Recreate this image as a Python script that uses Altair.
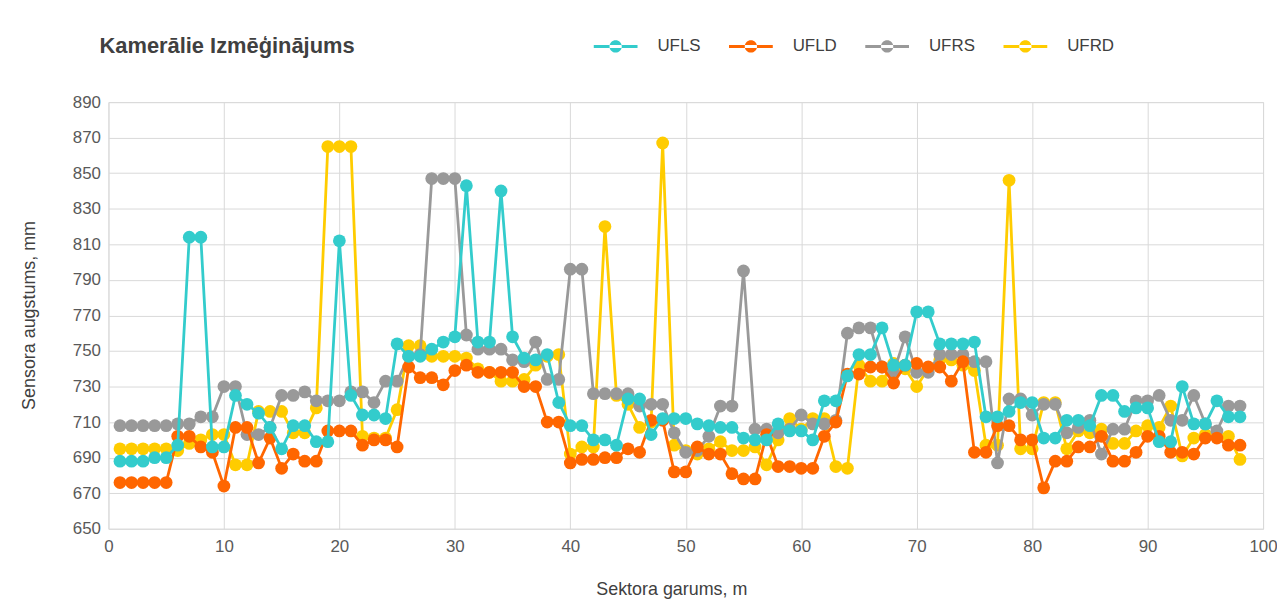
import altair as alt
import pandas as pd

x_vals = list(range(1, 99))

ufls = [688, 688, 688, 690, 690, 697, 814, 814, 696, 696,
        725, 720, 715, 707, 695, 708, 708, 699, 699, 812,
        725, 714, 714, 712, 754, 747, 747, 751, 755, 758,
        843, 755, 755, 840, 758, 746, 745, 748, 721, 708,
        708, 700, 700, 697, 723, 723, 703, 712, 712, 712,
        709, 708, 707, 707, 701, 700, 700, 709, 705, 705,
        700, 722, 722, 736, 748, 748, 763, 742, 742, 772,
        772, 754, 754, 754, 755, 713, 713, 716, 721, 721,
        701, 701, 711, 711, 708, 725, 725, 716, 718, 718,
        699, 699, 730, 709, 709, 722, 713, 713]

ufld = [676, 676, 676, 676, 676, 702, 702, 696, 693, 674,
        707, 707, 687, 701, 684, 692, 688, 688, 705, 705,
        705, 697, 700, 700, 696, 741, 735, 735, 731, 739,
        742, 738, 738, 738, 738, 730, 730, 710, 710, 687,
        689, 689, 690, 690, 695, 693, 711, 711, 682, 682,
        696, 692, 692, 681, 678, 678, 703, 685, 685, 684,
        684, 702, 710, 737, 737, 741, 741, 732, 742, 743,
        741, 741, 733, 744, 693, 693, 708, 708, 700, 700,
        673, 688, 688, 696, 696, 702, 688, 688, 693, 702,
        702, 693, 693, 692, 701, 701, 697, 697]

ufrs = [708, 708, 708, 708, 708, 709, 709, 713, 713, 730,
        730, 703, 703, 707, 725, 725, 727, 722, 722, 722,
        727, 727, 721, 733, 733, 747, 748, 847, 847, 847,
        759, 751, 751, 751, 745, 744, 755, 734, 734, 796,
        796, 726, 726, 726, 726, 719, 720, 720, 704, 693,
        694, 702, 719, 719, 795, 706, 706, 704, 706, 714,
        709, 709, 711, 760, 763, 763, 741, 738, 758, 738,
        738, 748, 748, 748, 744, 744, 687, 723, 723, 714,
        720, 720, 704, 707, 711, 692, 706, 706, 722, 722,
        725, 711, 711, 725, 709, 705, 719, 719]

ufrd = [695, 695, 695, 695, 695, 694, 698, 700, 703, 703,
        686, 686, 716, 716, 716, 704, 704, 718, 865, 865,
        865, 702, 701, 701, 717, 753, 753, 747, 747, 747,
        746, 740, 738, 733, 733, 734, 742, 747, 748, 692,
        696, 696, 820, 725, 720, 707, 710, 867, 697, 694,
        692, 695, 699, 694, 694, 696, 686, 700, 712, 706,
        712, 712, 685, 684, 742, 733, 733, 743, 740, 730,
        740, 745, 745, 742, 739, 697, 697, 846, 695, 695,
        721, 721, 695, 705, 704, 706, 698, 698, 705, 708,
        707, 719, 691, 701, 703, 702, 702, 689]

series_names = ["UFLS", "UFLD", "UFRS", "UFRD"]
series_colors = ["#33CCCC", "#FF6600", "#999999", "#FFCC00"]
draw_order = ["UFRD", "UFRS", "UFLD", "UFLS"]
x_ticks = list(range(0, 101, 10))
y_ticks = list(range(650, 891, 20))

rows = []
for name, vals in zip(series_names, [ufls, ufld, ufrs, ufrd]):
    for xv, yv in zip(x_vals, vals):
        rows.append({"x": xv, "y": yv, "series": name})
df = pd.DataFrame(rows)

FONT = "Liberation Sans"
color_scale = alt.Scale(domain=series_names, range=series_colors)

x_enc = alt.X(
    "x:Q",
    scale=alt.Scale(domain=[0, 100], nice=False, zero=False),
    axis=alt.Axis(
        values=x_ticks, title="Sektora garums, m", grid=True, gridColor="#d9d9d9",
        ticks=False, domain=False, labelFont=FONT, labelFontSize=17,
        labelColor="#595959", labelPadding=10, labelFlush=False,
        titleFont=FONT, titleFontSize=18, titleFontWeight="normal",
        titleColor="#404040", titleX=566, titleY=61, titleBaseline="middle",
        titleAlign="center",
    ),
)
y_enc = alt.Y(
    "y:Q",
    scale=alt.Scale(domain=[650, 890], nice=False, zero=False),
    axis=alt.Axis(
        values=y_ticks, title="Sensora augstums, mm", grid=True, gridColor="#d9d9d9",
        ticks=False, domain=False, labelFont=FONT, labelFontSize=17,
        labelColor="#595959", labelPadding=8,
        titleFont=FONT, titleFontSize=18, titleFontWeight="normal",
        titleColor="#404040", titleX=-79, titleY=214, titleBaseline="middle",
        titleAlign="center", titleAngle=-90,
    ),
)

legend_symbol = ("M-1,-0.07H1V0.07H-1Z "
                 "M-0.28,0A0.28,0.28 0 1,0 0.28,0A0.28,0.28 0 1,0 -0.28,0Z")
legend = alt.Legend(
    title=None, orient="none", legendX=488, legendY=-78, direction="horizontal",
    columns=4, symbolType=legend_symbol, symbolSize=1936, symbolStrokeWidth=0,
    symbolOpacity=1, labelFont=FONT, labelFontSize=17, labelColor="#404040",
    labelOffset=20, columnPadding=28, padding=0,
)
color_enc = alt.Color("series:N", scale=color_scale, legend=legend)

layers = []
for name in draw_order:
    base = alt.Chart(df).transform_filter(alt.datum.series == name)
    pts = base.mark_circle(size=165, opacity=1).encode(
        x=x_enc, y=y_enc, color=color_enc,
    )
    line = base.mark_line(strokeWidth=2.8).encode(
        x=x_enc, y=y_enc, color=color_enc,
    )
    layers += [line, pts]

chart = alt.layer(*layers).properties(
    width=1161,
    height=429,
    autosize=alt.AutoSizeParams(type="none"),
    padding={"left": 101, "top": 93, "right": 14, "bottom": 70},
    title=alt.TitleParams(
        "Kamerālie Izmēģinājums", anchor="start", frame="group", dx=-9,
        offset=37, dy=71, font=FONT, fontSize=22, fontWeight="bold",
        color="#404040",
    ),
).configure_view(stroke=None).configure(background="white")

chart.save("out.html", embed_options={"renderer": "svg", "actions": False})
